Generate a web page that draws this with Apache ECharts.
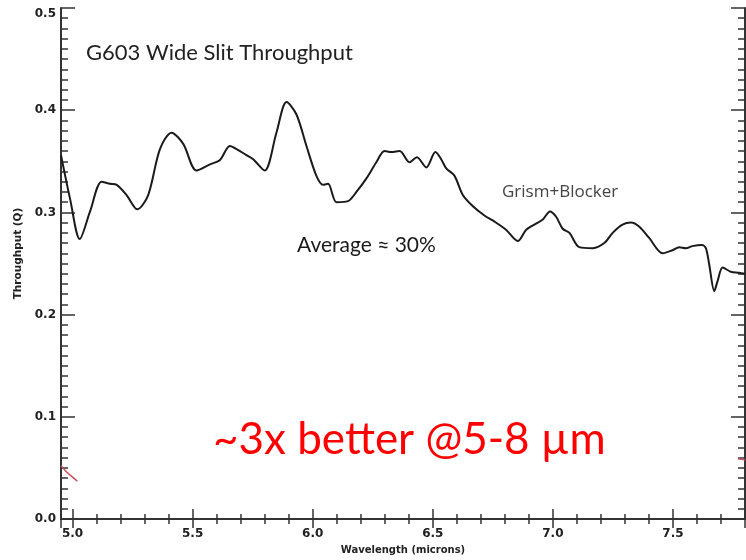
<!DOCTYPE html>
<html lang="en">
<head>
  <meta charset="UTF-8" />
  <title>G603 Wide Slit Throughput</title>
  <script src="https://cdn.jsdelivr.net/npm/echarts@6/dist/echarts.min.js"></script>
  <style>
    html, body { margin: 0; padding: 0; background: #fff; }
    #main { width: 746px; height: 560px; }
  </style>
</head>
<body>
  <div id="main"></div>
  <script>
    // 波长 (microns) 与 throughput
    var wavelength = [4.952, 4.99, 5.03, 5.073, 5.121, 5.156, 5.184, 5.225, 5.27, 5.315,
      5.364, 5.412, 5.461, 5.516, 5.572, 5.613, 5.655, 5.683, 5.724, 5.752,
      5.80, 5.849, 5.891, 5.932, 5.974, 6.015, 6.043, 6.064, 6.099, 6.147,
      6.182, 6.223, 6.265, 6.299, 6.327, 6.362, 6.403, 6.434, 6.473, 6.511,
      6.535, 6.556, 6.590, 6.625, 6.667, 6.715, 6.757, 6.805, 6.854, 6.889,
      6.930, 6.958, 6.988, 7.013, 7.041, 7.069, 7.110, 7.166, 7.214, 7.249,
      7.290, 7.325, 7.360, 7.401, 7.457, 7.498, 7.526, 7.554, 7.581, 7.620,
      7.637, 7.651, 7.672, 7.686, 7.707, 7.741, 7.775, 7.80];
    var throughput = [0.356, 0.313, 0.274, 0.301, 0.330, 0.328, 0.327, 0.317, 0.303, 0.317,
      0.362, 0.378, 0.367, 0.341, 0.347, 0.351, 0.365, 0.362, 0.356, 0.352,
      0.341, 0.378, 0.408, 0.396, 0.365, 0.336, 0.327, 0.328, 0.310, 0.311,
      0.320, 0.333, 0.349, 0.360, 0.359, 0.360, 0.349, 0.354, 0.344, 0.359,
      0.352, 0.343, 0.336, 0.317, 0.306, 0.297, 0.291, 0.283, 0.272, 0.283,
      0.289, 0.293, 0.301, 0.296, 0.284, 0.280, 0.266, 0.265, 0.270, 0.280,
      0.288, 0.290, 0.286, 0.275, 0.260, 0.263, 0.266, 0.265, 0.267, 0.268,
      0.265, 0.249, 0.223, 0.233, 0.246, 0.242, 0.241, 0.240];

    // 红色旧曲线的两段残留
    var oldLeftWl = [4.952, 4.975, 5.0, 5.02];
    var oldLeftTp = [0.052, 0.046, 0.041, 0.037];
    var oldRightWl = [7.77, 7.80];
    var oldRightTp = [0.059, 0.058];

    var xMin = 4.952, xMax = 7.8;
    var yTicks = ["0.0", "0.1", "0.2", "0.3", "0.4", "0.5"];

    function pairs(xs, ys) {
      return xs.map(function (x, i) { return [x, ys[i]]; });
    }

    var axisColor = "#333";
    var labelFont = { color: "#222", fontSize: 12, fontFamily: "DejaVu Sans", fontWeight: "bold" };

    var chart = echarts.init(document.getElementById("main"));

    var option = {
      animation: false,
      backgroundColor: "#fff",
      grid: { left: 61, right: 1, top: 8, bottom: 37 },
      xAxis: [
        {
          type: "value",
          position: "bottom",
          min: xMin,
          max: xMax,
          splitNumber: 5,
          name: "Wavelength (microns)",
          nameLocation: "middle",
          nameGap: 26,
          nameTextStyle: { color: "#222", fontSize: 10, fontFamily: "DejaVu Sans", fontWeight: "bold" },
          axisLine: { lineStyle: { color: axisColor, width: 2 } },
          axisTick: { inside: true, length: 10, lineStyle: { color: axisColor, width: 1.5 } },
          minorTick: { show: true, splitNumber: 5, length: 5, lineStyle: { color: axisColor, width: 1.5 } },
          axisLabel: Object.assign({ margin: 9, showMinLabel: false, showMaxLabel: false,
            formatter: function (v) { return v.toFixed(1); } }, labelFont),
          splitLine: { show: false }
        },
        {
          type: "value",
          position: "top",
          min: xMin,
          max: xMax,
          splitNumber: 5,
          axisLine: { lineStyle: { color: axisColor, width: 2 } },
          axisTick: { inside: true, length: 9, lineStyle: { color: axisColor, width: 1.5 } },
          minorTick: { show: true, splitNumber: 5, length: 5, lineStyle: { color: axisColor, width: 1.5 } },
          axisLabel: { show: false },
          splitLine: { show: false }
        }
      ],
      yAxis: [
        {
          type: "value",
          position: "left",
          min: 0,
          max: 0.5,
          interval: 0.1,
          name: "Throughput (Q)",
          nameLocation: "middle",
          nameGap: 31,
          nameTextStyle: { color: "#222", fontSize: 10.5, fontFamily: "DejaVu Sans", fontWeight: "bold", padding: [0, 0, 0, 20] },
          axisLine: { show: true, lineStyle: { color: axisColor, width: 2 } },
          axisTick: { show: true, inside: true, length: 14, lineStyle: { color: axisColor, width: 1.5 } },
          minorTick: { show: true, splitNumber: 10, length: 7, lineStyle: { color: axisColor, width: 1.5 } },
          axisLabel: Object.assign({ margin: 5, verticalAlignMaxLabel: "top",
            formatter: function (v) { return yTicks[Math.round(v * 10)]; } }, labelFont),
          splitLine: { show: false }
        },
        {
          type: "value",
          position: "right",
          min: 0,
          max: 0.5,
          interval: 0.1,
          axisLine: { show: true, lineStyle: { color: axisColor, width: 2 } },
          axisTick: { show: true, inside: true, length: 14, lineStyle: { color: axisColor, width: 1.5 } },
          minorTick: { show: true, splitNumber: 10, length: 7, lineStyle: { color: axisColor, width: 1.5 } },
          axisLabel: { show: false },
          splitLine: { show: false }
        }
      ],
      series: [
        {
          type: "line",
          data: pairs(wavelength, throughput),
          smooth: 0.3,
          showSymbol: false,
          lineStyle: { color: "#1a1a1a", width: 2 }
        },
        {
          type: "line",
          data: pairs(oldLeftWl, oldLeftTp),
          showSymbol: false,
          lineStyle: { color: "#c8505a", width: 1.5 }
        },
        {
          type: "line",
          data: pairs(oldRightWl, oldRightTp),
          showSymbol: false,
          lineStyle: { color: "#c8505a", width: 1.5 }
        }
      ],
      graphic: [
        {
          type: "text", x: 86, y: 53,
          style: { text: "G603 Wide Slit Throughput", fill: "#222", font: "22px Lato", textVerticalAlign: "middle" }
        },
        {
          type: "text", x: 297, y: 245,
          style: { text: "Average \u2248 30%", fill: "#1a1a1a", font: "21px Lato", textVerticalAlign: "middle" }
        },
        {
          type: "text", x: 502, y: 192,
          style: { text: "Grism+Blocker", fill: "#444", font: "17px 'Open Sans'", textVerticalAlign: "middle" }
        },
        {
          type: "text", x: 213, y: 440,
          style: { text: "~3x better @5-8 \u00b5m", fill: "#ff0000", font: "44px Lato", textVerticalAlign: "middle" }
        }
      ]
    };

    chart.setOption(option);
  </script>
</body>
</html>
